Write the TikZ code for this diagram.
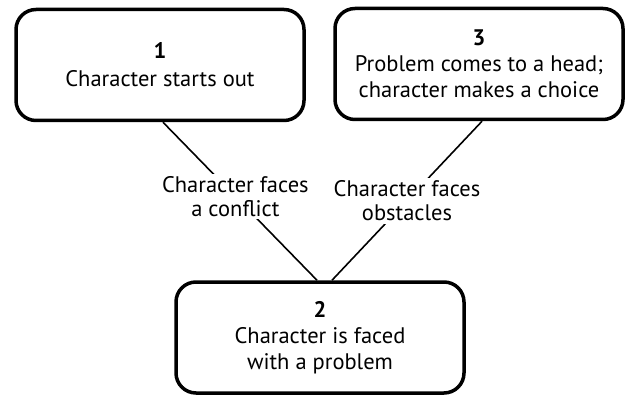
\documentclass[tikz,border=0pt]{standalone}
\usepackage{fontspec}
\setmainfont{PT Sans}
\begin{document}
\begin{tikzpicture}[x=1pt,y=-1pt,
  box/.style={draw=black, line width=3.5pt, rounded corners=20pt, minimum width=288pt, minimum height=111pt, align=center, font=\fontsize{22.5}{26}\selectfont, inner sep=0pt},
  conn/.style={draw=black, line width=1.6pt},
  lbl/.style={fill=white, align=center, font=\fontsize{22.5}{23.5}\selectfont, inner sep=3pt}]
\useasboundingbox (0,0) rectangle (625,396);
\node[box] (b1) at (160,65) {\textbf{1}\\[2pt]Character starts out};
\node[box] (b3) at (479,64) {\textbf{3}\\Problem comes to a head;\\character makes a choice};
\node[box] (b2) at (320,337.5) {\textbf{2}\\Character is faced\\with a problem};
\draw[conn] ([xshift=3pt]b1.south) -- node[lbl, pos=0.47]{Character faces\\a conflict} ([xshift=-3pt]b2.north);
\draw[conn] ([xshift=3pt]b3.south) -- node[lbl, pos=0.5]{Character faces\\obstacles} ([xshift=12pt]b2.north);
\end{tikzpicture}
\end{document}
